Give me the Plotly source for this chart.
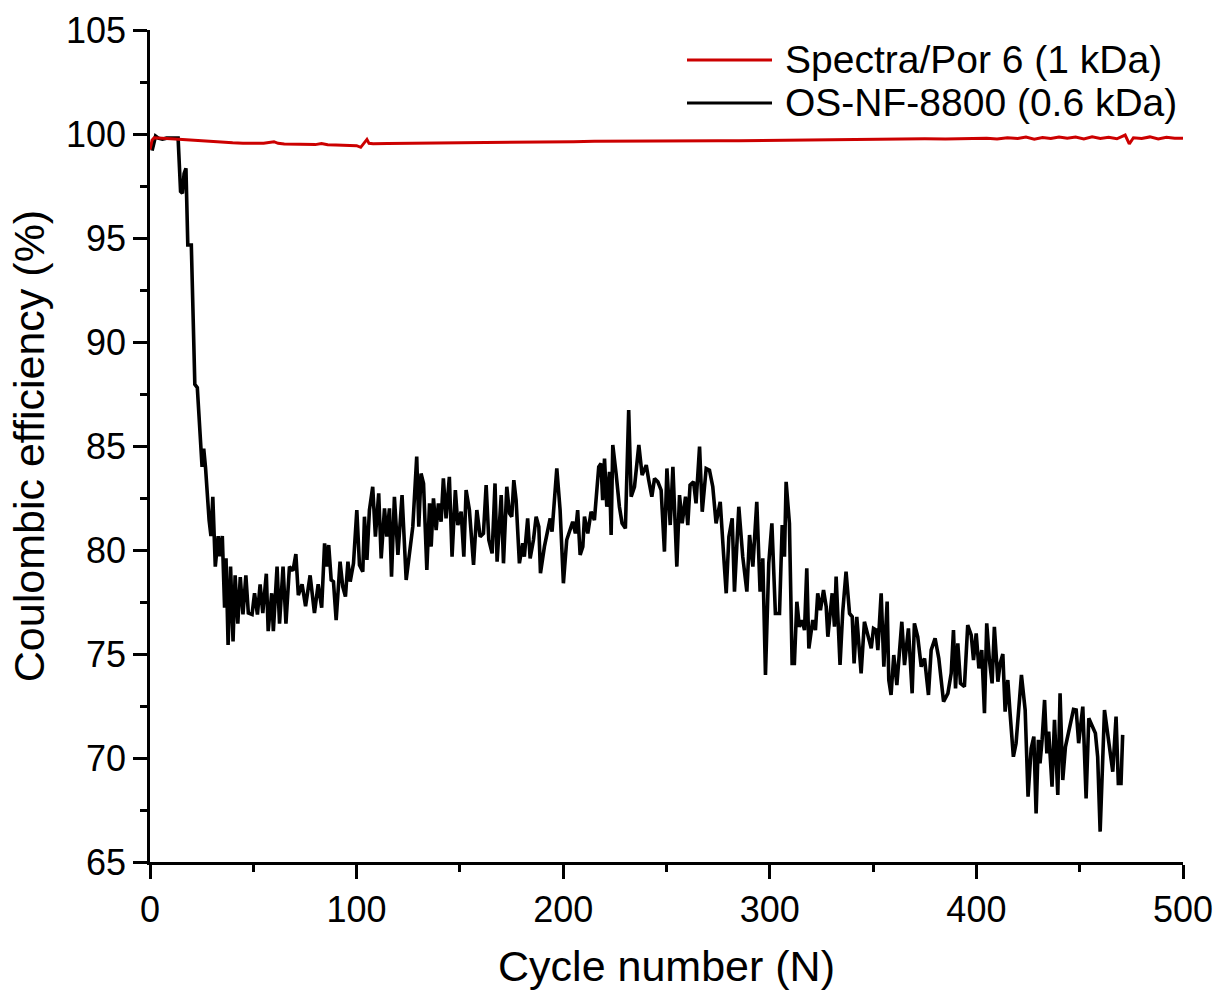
import plotly.graph_objects as go

# Spectra/Por 6 (1 kDa) membrane
red_cycle = [0, 1, 2, 4, 8, 12, 16, 20, 25, 30, 35, 40, 45, 50, 55, 60, 62, 65, 70, 75,
             80, 83, 86, 90, 95, 100, 102, 104, 105, 106, 108, 115, 125, 135, 145, 155,
             165, 175, 185, 195, 205, 215, 225, 235, 245, 255, 265, 275, 285, 295, 305,
             315, 325, 335, 345, 355, 365, 375, 385, 395, 405, 410, 415, 420, 424, 428,
             432, 436, 440, 444, 448, 452, 456, 460, 464, 468, 472, 474, 476, 480, 484,
             488, 492, 496, 500]
red_ce = [99.25, 99.7, 99.82, 99.8, 99.78, 99.76, 99.73, 99.71, 99.67, 99.64, 99.61, 99.58,
          99.56, 99.55, 99.56, 99.63, 99.55, 99.52, 99.5, 99.5, 99.49, 99.54, 99.48, 99.47,
          99.46, 99.44, 99.36, 99.6, 99.74, 99.55, 99.53, 99.54, 99.55, 99.55, 99.56, 99.55,
          99.56, 99.58, 99.6, 99.61, 99.63, 99.65, 99.66, 99.66, 99.67, 99.67, 99.68, 99.68,
          99.68, 99.69, 99.7, 99.71, 99.73, 99.75, 99.76, 99.76, 99.76, 99.77, 99.76, 99.78,
          99.79, 99.76, 99.82, 99.78, 99.85, 99.75, 99.83, 99.78, 99.86, 99.8, 99.85, 99.76,
          99.87, 99.79, 99.84, 99.77, 99.95, 99.52, 99.82, 99.78, 99.86, 99.76, 99.84, 99.8,
          99.79]

# OS-NF-8800 (0.6 kDa) membrane
black_cycle = [1.0, 2.7, 4, 6, 8, 10, 12, 13.6, 14.8, 15.7, 16.5, 17.4, 18.3, 20.0, 21.7,
               22.9, 25.2, 26.0, 26.9, 28.6, 29.5, 30.4, 31.6, 33.0, 33.8, 35.0, 36.1, 36.8,
               37.8, 39.0, 40.2, 41.2, 42.5, 43.7, 45.0, 46.4, 47.6, 49.4, 50.6, 52.0, 53.3,
               54.6, 56.3, 57.2, 58.9, 59.7, 61.5, 62.7, 64.4, 65.8, 67.5, 69.2, 70.6, 71.8,
               73.6, 75.3, 77.5, 79.6, 81.4, 83.1, 84.5, 85.7, 86.5,
               87.7, 88.8, 90.1, 92.0, 93.3, 94.6, 95.8, 96.9, 98.5, 100.1, 101.4, 103.0,
               103.8, 105.0, 106.2, 107.8, 109.1, 110.7, 111.9, 113.5, 114.6, 115.9, 116.9,
               118.3, 120.0, 122.0, 124.0, 125.6, 127.2, 129.1, 130.1, 131.2, 132.4, 134.0,
               135.3, 136.1, 137.2, 138.5, 139.6, 140.9, 142.0, 143.3, 144.9, 146.2, 147.8,
               149.0, 150.6, 151.9, 153.0, 154.6, 156.6, 158.2, 159.8, 161.4, 162.7, 164.0,
               165.6, 167.0, 168.0, 170.0, 171.1, 172.7, 174.0, 175.1, 176.1, 177.2, 178.8,
               180.4, 181.2, 182.8, 184.0, 185.6, 186.9, 188.2, 189.0, 190.9, 192.0, 193.7,
               194.6, 196.9, 198.5, 200.1, 201.7, 203.3, 204.6, 205.9, 207.0, 208.2, 209.5,
               210.3, 211.9, 213.5, 215.1, 217.2, 218.3, 219.1, 220.0, 221.1, 222.4, 223.2,
               224.0, 225.6, 227.2, 228.5, 230.1, 231.7,
               232.9, 234.5, 236.6, 238.2, 240.2, 241.4, 242.9, 244.2, 245.8, 247.4, 249.0,
               250.2, 251.8, 253.1, 255.0, 256.3, 257.6, 259.2, 260.3, 261.4, 263.1, 264.3,
               266.0, 267.3, 269.2, 270.8, 272.4, 274.0, 276.0, 277.6, 278.9, 280.2, 281.8,
               282.9, 285.0, 286.9, 288.9, 290.2, 291.8, 293.7, 295.3, 296.6, 297.9, 299.5,
               301.0, 302.7, 304.7, 306.0, 307.1, 307.9, 309.5, 310.8, 311.9, 313.1, 314.3,
               315.6, 316.8, 317.9, 318.9, 320.8, 322.1, 323.2, 324.5, 326.0, 327.3, 328.1,
               330.2, 331.3, 332.1, 334.0, 335.3, 336.9,
               338.6, 339.9, 340.8, 342.1, 344.2, 345.8, 347.5, 349.1, 350.2, 351.5, 352.3,
               353.9, 355.2, 356.8, 357.6, 358.7, 360.0, 361.5, 363.9, 365.2, 367.1, 368.9,
               370.0, 371.6, 373.3, 374.9, 376.8, 378.1, 380.0, 381.8, 384.1, 386.2, 387.8,
               388.9, 389.9, 391.0, 392.3, 394.2, 395.8, 397.5, 398.6, 399.9, 401.2, 402.6,
               403.9, 405.0, 406.3, 407.6, 408.7, 410.4, 411.5, 412.8, 413.9, 415.2, 416.3,
               417.9, 419.2, 420.5, 421.8, 423.6, 425.0, 426.5, 427.8, 428.9, 430.0, 430.8,
               431.8, 433.0, 434.1, 435.0, 436.6, 437.8, 439.4, 440.5, 441.8, 443.1, 445.0,
               447.0, 448.3, 449.5, 451.5, 453.1, 454.4, 456.0, 457.6, 458.7, 459.9, 462.0,
               463.6, 464.7, 466.0, 467.6, 468.7, 470.0, 470.8]
black_ce = [99.2, 99.9, 99.8, 99.75, 99.8, 99.78, 99.8, 99.8, 97.24, 97.15, 98.1, 98.35, 94.66,
            94.66, 87.96, 87.8, 84.0, 84.87, 83.93, 81.44, 80.67, 82.56, 79.2, 80.67, 79.7,
            80.67, 77.23, 79.6, 75.43, 79.2, 75.6, 78.78, 76.46, 78.7, 76.9, 78.78, 76.97,
            76.9, 77.92, 76.9, 78.35, 76.97, 78.86, 76.1, 77.92, 76.1, 79.2, 76.46, 79.2,
            76.46, 79.2, 79.0, 79.8, 77.83, 78.35, 77.3, 78.78, 76.97, 78.35, 77.23, 80.32,
            79.2, 80.24,
            78.56, 78.48, 76.63, 79.44, 78.24, 77.76, 79.44, 78.48, 79.36, 81.92, 79.28, 78.96,
            81.6, 79.52, 81.92, 83.04, 80.64, 82.72, 79.6, 82.0, 80.64, 82.0, 78.72, 82.56,
            79.76, 82.64, 78.56, 79.84, 81.12, 84.49, 81.12, 83.68, 83.2, 79.04, 82.24, 80.16,
            82.48, 80.96, 82.24, 81.36, 83.44, 81.52, 83.52, 79.68, 82.88, 81.2, 81.84, 79.68,
            82.88, 81.92, 79.28, 81.92, 80.64, 80.8, 83.12, 80.48, 79.84, 83.2, 79.44, 82.64,
            79.36, 83.04, 81.76, 81.6, 83.36, 82.4, 79.36, 80.32, 79.68, 81.52, 79.6, 80.48,
            81.6, 81.12, 78.88, 80.16, 80.72, 81.52, 80.88, 83.92, 81.92, 78.4, 80.48, 80.96,
            81.36, 80.8, 81.92, 79.76, 80.16, 81.6, 80.8, 81.84, 81.44, 84.0, 84.16, 82.4,
            84.4, 82.08, 83.76, 80.72, 85.05, 83.68, 82.08, 81.28, 81.04, 86.73,
            82.56, 83.04, 85.05, 83.6, 84.08, 83.36, 82.56, 83.44, 83.28, 82.88, 79.92, 83.92,
            81.2, 84.0, 79.2, 82.64, 81.28, 82.56, 81.2, 83.12, 83.28, 82.24, 84.97, 81.84,
            83.92, 83.84, 83.04, 81.28, 82.32, 79.84, 77.92, 80.64, 81.52, 78.0, 82.08, 79.68,
            78.0, 80.72, 79.2, 82.32, 78.0, 79.6, 73.99, 79.36, 81.28, 76.95, 76.95, 81.2,
            79.68, 83.28, 81.28, 74.55, 74.55, 77.51, 76.31, 76.63, 76.15, 79.12, 75.27, 76.63,
            76.15, 77.92, 77.11, 78.08, 77.27, 75.83, 77.92, 76.31, 78.72, 74.47, 77.03, 78.96,
            76.95, 76.79, 74.55, 76.79, 74.07, 76.55, 75.83, 75.27, 76.23, 76.15, 75.19, 77.92,
            74.39, 77.52, 73.75, 73.03, 74.95, 73.51, 76.55, 74.47, 76.23, 73.11, 76.47, 75.83,
            74.39, 74.79, 73.03, 75.19, 75.75, 74.79, 72.71, 73.11, 74.07, 76.15, 73.35, 75.51,
            73.59, 73.43, 76.39, 75.91, 74.71, 75.99, 74.31, 75.19, 72.15, 76.47, 74.71, 73.59,
            76.31, 73.67, 74.55, 75.0, 72.23, 73.75, 72.15, 70.06, 70.71, 72.47, 73.99, 72.31,
            68.14, 70.46, 71.03, 67.34, 70.87, 69.74, 70.87, 72.79, 70.22, 71.27, 68.62, 71.83,
            68.22, 73.11, 68.94, 70.54, 71.35, 72.34, 72.31, 70.71, 72.47, 68.06, 71.91, 71.51,
            71.19, 70.06, 66.46, 72.31, 71.03, 70.38, 69.34, 71.99, 68.78, 68.78, 71.11]

series_names = ["Spectra/Por 6 (1 kDa)", "OS-NF-8800 (0.6 kDa)"]
series_colors = ["#CC0000", "#000000"]

FONT = "Liberation Sans, Arial, sans-serif"

fig = go.Figure()
fig.add_trace(go.Scatter(x=black_cycle, y=black_ce, mode="lines", name=series_names[1],
                         line=dict(color=series_colors[1], width=3.6)))
fig.add_trace(go.Scatter(x=red_cycle, y=red_ce, mode="lines", name=series_names[0],
                         line=dict(color=series_colors[0], width=3)))

axis_common = dict(
    showgrid=False, zeroline=False, showline=True, linecolor="black", linewidth=2.5,
    ticks="outside", ticklen=14, tickwidth=2.5, tickcolor="black",
    tickfont=dict(family=FONT, size=36, color="black"),
    automargin=False,
)
fig.update_xaxes(range=[0, 500], tickvals=[0, 100, 200, 300, 400, 500],
                 minor=dict(dtick=50, ticks="outside", ticklen=7, tickwidth=2.5, tickcolor="black"),
                 title=dict(text="Cycle number (N)", font=dict(family=FONT, size=43, color="black"),
                            standoff=22),
                 **axis_common)
fig.update_yaxes(range=[65, 105], tickvals=[65, 70, 75, 80, 85, 90, 95, 100, 105],
                 minor=dict(dtick=2.5, ticks="outside", ticklen=7, tickwidth=2.5, tickcolor="black"),
                 title=dict(text="Coulombic efficiency (%)", font=dict(family=FONT, size=43, color="black"),
                            standoff=8),
                 **axis_common)

# Legend drawn as line samples with labels in the upper right
W, L, R, T, B, H = 1216, 150, 33, 30, 129, 991
pw, ph = W - L - R, H - T - B
def px_x(p):
    return (p - L) / pw
def px_y(p):
    return (H - B - p) / ph

legend_rows = [(60, series_colors[0], series_names[0]), (103, series_colors[1], series_names[1])]
for yy, col, name in legend_rows:
    fig.add_shape(type="line", xref="paper", yref="paper",
                  x0=px_x(687), x1=px_x(772), y0=px_y(yy), y1=px_y(yy),
                  line=dict(color=col, width=3))
    fig.add_annotation(xref="paper", yref="paper", x=px_x(783), y=px_y(yy),
                       text=name, showarrow=False, xanchor="left", yanchor="middle",
                       font=dict(family=FONT, size=39, color="black"))

fig.update_layout(
    width=W, height=H,
    margin=dict(l=L, r=R, t=T, b=B),
    paper_bgcolor="white", plot_bgcolor="white",
    showlegend=False,
    font=dict(family=FONT, color="black"),
)

fig.write_html("out.html")
